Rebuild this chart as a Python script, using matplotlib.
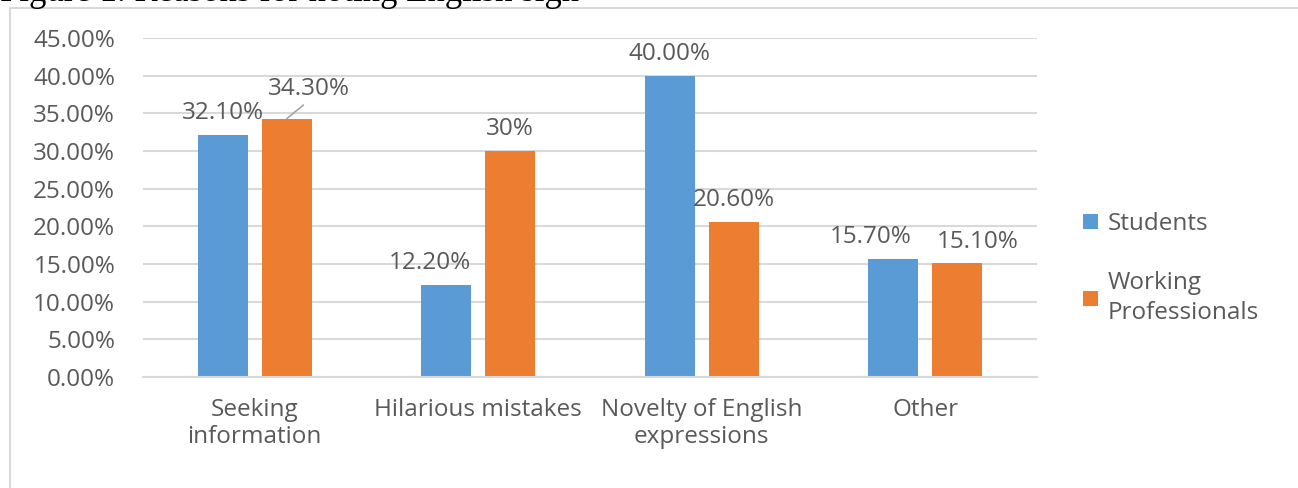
import numpy as np
from matplotlib import pyplot as plt
from matplotlib.patches import Rectangle
from matplotlib.ticker import FuncFormatter, MultipleLocator

plt.rcParams['font.family'] = ['Open Sans', 'DejaVu Sans']

categories = ['Seeking\ninformation', 'Hilarious mistakes', 'Novelty of English\nexpressions', 'Other']
students = [32.1, 12.2, 40.0, 15.7]
professionals = [34.3, 30.0, 20.6, 15.1]
student_labels = ['32.10%', '12.20%', '40.00%', '15.70%']
professional_labels = ['34.30%', '30%', '20.60%', '15.10%']

# horizontal nudges (points) for data labels, as Excel placed them
student_nudge = [0, -12, 0, -16]
professional_nudge = [16, 0, 0, 15]

blue = '#5B9BD5'
orange = '#ED7D31'
text_grey = '#595959'
grid_grey = '#D9D9D9'
fs = 17.5

fig = plt.figure(figsize=(12.98, 4.88), dpi=100)
W, H = 1298, 488
ax = fig.add_axes([143 / W, 1 - 377 / H, (1037 - 143) / W, (377 - 38) / H])

# frame around the chart (right/bottom run off the picture)
fig.patches.append(Rectangle((10 / W, -0.1), 1.2, 1 - 8 / H + 0.1, transform=fig.transFigure,
                             fill=False, edgecolor=grid_grey, linewidth=1.5))
fig.text(0.0, 1 - 1 / H, 'Figure 1. Reasons for noting English sign', family='Liberation Serif',
         fontsize=25, va='baseline', ha='left', color='black')

index = np.arange(len(categories))
bar_width = 0.224
offset = 0.143
b1 = ax.bar(index - offset, students, bar_width, color=blue, label='Students', zorder=2)
b2 = ax.bar(index + offset, professionals, bar_width, color=orange, label='Working\nProfessionals', zorder=2)

for rect, lab, dx in zip(b1, student_labels, student_nudge):
    ax.annotate(lab, (rect.get_x() + rect.get_width() / 2, rect.get_height()), xytext=(dx, 7),
                textcoords='offset points', ha='center', va='bottom', fontsize=fs, color=text_grey)
for i, (rect, lab, dx) in enumerate(zip(b2, professional_labels, professional_nudge)):
    x = rect.get_x() + rect.get_width() / 2
    if i == 0:
        # label pulled up with a leader line
        ax.annotate(lab, (x, rect.get_height()), xytext=(dx, 13), textcoords='offset points',
                    ha='center', va='bottom', fontsize=fs, color=text_grey,
                    arrowprops=dict(arrowstyle='-', color='#A6A6A6', lw=1.2, shrinkA=2, shrinkB=0,
                                    relpos=(0.5, 0.0)))
    else:
        ax.annotate(lab, (x, rect.get_height()), xytext=(dx, 7), textcoords='offset points',
                    ha='center', va='bottom', fontsize=fs, color=text_grey)

ax.set_xlim(-0.5, 3.5)
ax.set_ylim(0, 45)
ax.yaxis.set_major_locator(MultipleLocator(5))
ax.yaxis.set_major_formatter(FuncFormatter(lambda v, p: f'{v:.2f}%'))
ax.set_xticks(index)
ax.set_xticklabels(categories, linespacing=1.2)
ax.tick_params(axis='both', length=0, labelsize=fs, labelcolor=text_grey)
ax.tick_params(axis='y', pad=20)
ax.tick_params(axis='x', pad=15)
for side in ['top', 'right', 'left']:
    ax.spines[side].set_visible(False)
ax.spines['bottom'].set_color(grid_grey)
ax.spines['bottom'].set_linewidth(1.5)
ax.grid(True, axis='y', color=grid_grey, linewidth=1.5, zorder=0)
ax.set_axisbelow(True)

leg = ax.legend(loc='upper left', bbox_to_anchor=(1083 / W, 1 - 212 / H), bbox_transform=fig.transFigure,
                frameon=False, fontsize=fs, labelcolor=text_grey, handlelength=0.6, handleheight=0.6,
                handletextpad=0.4, labelspacing=1.45, borderpad=0, borderaxespad=0)
for t in leg.get_texts():
    t.set_linespacing(1.3)

plt.savefig('out.png', dpi=100)
